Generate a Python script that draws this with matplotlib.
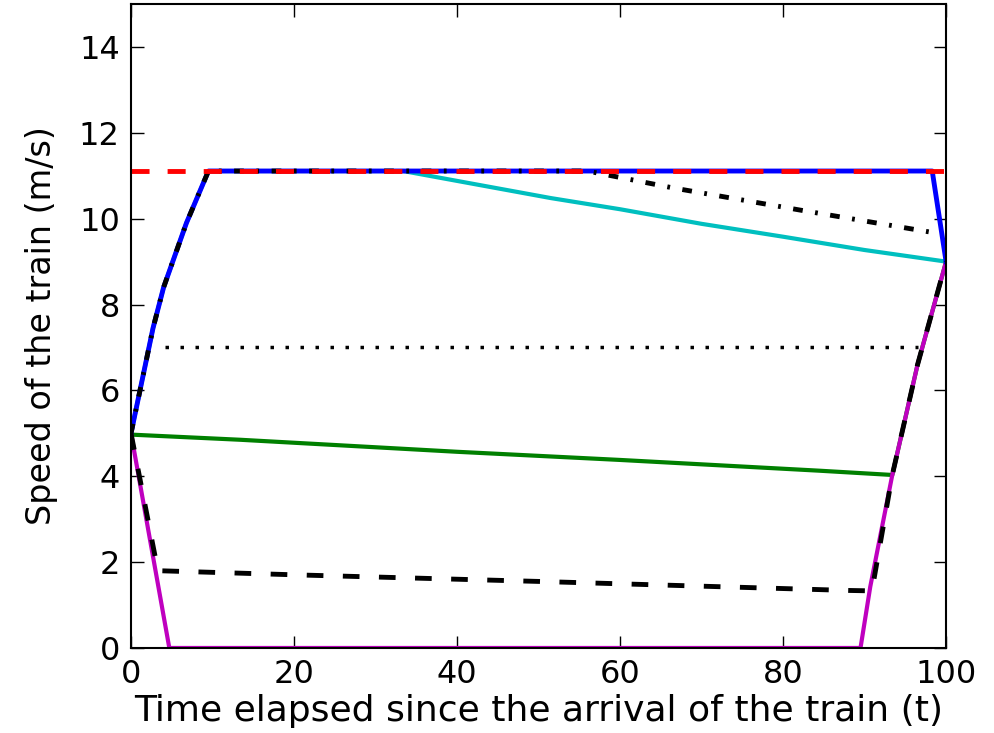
import numpy as np
import matplotlib.pyplot as plt

plt.rcParams['font.family'] = ['DejaVu Sans']
plt.rcParams['lines.scale_dashes'] = False

# speed limit (m/s)
limit_t = [0, 100]
limit_v = [11.11, 11.11]

# blue: accelerate to the limit, run, brake at the end
blue_t = [0, 2.7, 4.0, 6.8, 9.5, 98.3, 100]
blue_v = [5.0, 7.45, 8.4, 9.9, 11.11, 11.11, 9.0]

# cyan: coast after about 33 s
cyan_t = [0, 2.7, 4.0, 6.8, 9.5, 33.4, 40, 51.5, 60, 70, 80, 90, 100]
cyan_v = [5.0, 7.45, 8.4, 9.9, 11.11, 11.11, 10.88, 10.48, 10.22, 9.88, 9.58, 9.27, 9.0]

# black dash-dot: coast after about 56 s
dd_t = [0, 2.7, 4.0, 6.8, 9.5, 56, 66.4, 82.1, 98.3]
dd_v = [5.0, 7.45, 8.4, 9.9, 11.11, 11.11, 10.72, 10.2, 9.68]

# black dotted: constant speed
dot_t = [4.2, 96.5]
dot_v = [7.0, 7.0]

# green: slow coast then accelerate
green_t = [0, 13.4, 40, 60, 84.4, 93.4, 96.5, 100]
green_v = [4.97, 4.85, 4.57, 4.38, 4.13, 4.03, 6.6, 9.0]

# magenta: brake to stop, wait, accelerate
mag_t = [0, 4.7, 89.5, 90.7, 93.4, 96.5, 100]
mag_v = [5.0, 0.0, 0.0, 1.43, 4.03, 6.6, 9.0]

# black dashed: brake, coast slowly, accelerate
dash_t = [0, 3.3, 20.8, 50, 88, 90.9, 93.4, 96.5, 100]
dash_v = [5.0, 1.8, 1.70, 1.55, 1.34, 1.33, 4.03, 6.6, 9.0]

fig = plt.figure(figsize=(9.94, 7.33), dpi=100)
ax = fig.add_axes([0.1318, 0.116, 0.82, 0.8785])

ax.plot(cyan_t, cyan_v, color=(0, 0.75, 0.75), lw=3)
ax.plot(green_t, green_v, color=(0, 0.5, 0), lw=3)
ax.plot(mag_t, mag_v, color=(0.75, 0, 0.75), lw=3)
ax.plot(blue_t, blue_v, color='b', lw=3.5)
ax.plot(dd_t, dd_v, color='k', lw=3.5, dashes=(7, 9, 2, 9))
ax.plot(dot_t, dot_v, color='k', lw=2.5, dashes=(2.5, 8.3))
ax.plot(dash_t, dash_v, color='k', lw=3.5, dashes=(12, 14))
ax.plot(limit_t, limit_v, color='r', lw=3.5, dashes=(13, 13))

ax.set_xlim(0, 100)
ax.set_ylim(0, 15)
ax.set_xticks([0, 20, 40, 60, 80, 100])
ax.set_yticks([0, 2, 4, 6, 8, 10, 12, 14])
ax.tick_params(direction='in', length=9, width=1, top=True, right=True,
               labelsize=23, pad=8)
for s in ax.spines.values():
    s.set_linewidth(1.5)

ax.set_xlabel('Time elapsed since the arrival of the train (t)', fontsize=26, labelpad=3)
ax.set_ylabel('Speed of the train (m/s)', fontsize=24, labelpad=15)

fig.savefig('out.png', dpi=100)
